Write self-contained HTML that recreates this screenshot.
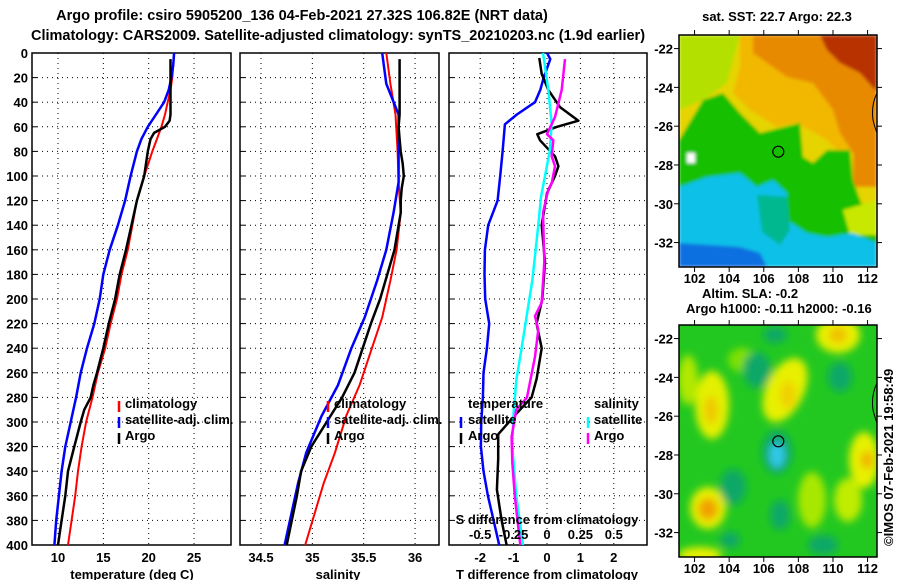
<!DOCTYPE html>
<html><head><meta charset="utf-8"><style>
html,body{margin:0;padding:0;background:#fff;}
svg{display:block;font-family:"Liberation Sans",Arial,sans-serif;font-weight:bold;}
text{font-size:13px;fill:#000;}
</style></head><body>
<svg id="fig" width="900" height="580" viewBox="0 0 900 580" xmlns="http://www.w3.org/2000/svg">
<rect width="900" height="580" fill="#fff"/>
<text x="302" y="20" text-anchor="middle" style="font-size:14.5px">Argo profile: csiro 5905200_136 04-Feb-2021 27.32S 106.82E (NRT data)</text>
<text x="338" y="40" text-anchor="middle" style="font-size:14.5px">Climatology: CARS2009. Satellite-adjusted climatology: synTS_20210203.nc (1.9d earlier)</text>

<defs>
<clipPath id="c1"><rect x="679" y="35" width="198" height="232"/></clipPath>
<clipPath id="c2"><rect x="679" y="325" width="198" height="232"/></clipPath>
<filter id="bl" x="-10%" y="-10%" width="120%" height="120%"><feGaussianBlur stdDeviation="4"/></filter>
<filter id="bl2"><feGaussianBlur stdDeviation="1.5"/></filter>
</defs>
<text x="777" y="21" text-anchor="middle">sat. SST: 22.7 Argo: 22.3</text>
<g clip-path="url(#c1)">
<g filter="url(#bl2)">
<rect x="679" y="35" width="198" height="232" fill="#e6d400"/>
<polygon fill="#b4e000" points="679,35 740,35 727,83 703,100 679,110"/>
<polygon fill="#f2b800" points="740,35 827,35 847,110 853,153 840,153 827,140 797,123 777,127 750,110 733,93 740,67"/>
<polygon fill="#e88a00" points="753,35 877,35 877,187 853,187 853,153 840,133 833,110 813,83 787,77 767,63 753,53"/>
<polygon fill="#b83000" points="820,35 877,35 877,92 860,73 840,63 827,50"/>
<polygon fill="#14c000" points="679,140 703,100 723,93 740,113 760,133 800,123 803,157 813,163 827,150 850,150 853,180 860,200 870,220 877,227 877,267 679,267"/>
<polygon fill="#c8e800" points="843,210 877,200 877,235 850,235"/>
<polygon fill="#10c0e8" points="679,187 707,177 740,173 757,187 773,180 787,193 787,220 807,233 827,237 853,233 877,243 877,267 679,267"/>
<polygon fill="#00b890" points="757,195 787,197 790,230 780,245 762,232"/>
<polygon fill="#1070e0" points="679,243 740,247 760,253 767,267 679,267"/>
<rect x="687" y="153" width="8" height="10" fill="#fff"/>
</g>
<path d="M877,93 Q871,105 873,120 Q875,128 877,133" fill="none" stroke="#000" stroke-width="1"/>
<circle cx="778.3" cy="151.7" r="5.5" fill="none" stroke="#000" stroke-width="1.2"/>
</g>
<rect x="679" y="35" width="198" height="232" fill="none" stroke="#000" stroke-width="1.5"/>

<text x="702" y="298">Altim. SLA: -0.2</text>
<text x="686" y="313">Argo h1000: -0.11 h2000: -0.16</text>
<g clip-path="url(#c2)">
<rect x="679" y="325" width="198" height="232" fill="#22c820"/>
<g filter="url(#bl)">
<ellipse cx="712" cy="405" rx="17" ry="34" fill="#e4f000"/>
<ellipse cx="711" cy="410" rx="7" ry="14" fill="#f0c800"/>
<ellipse cx="785" cy="390" rx="19" ry="34" fill="#e8f000" transform="rotate(25 785 390)"/>
<ellipse cx="788" cy="395" rx="8" ry="14" fill="#f0d000"/>
<ellipse cx="838" cy="335" rx="22" ry="18" fill="#e8f000"/>
<ellipse cx="838" cy="335" rx="9" ry="8" fill="#f0c000"/>
<ellipse cx="864" cy="460" rx="15" ry="28" fill="#e8f000"/>
<ellipse cx="867" cy="460" rx="6" ry="9" fill="#f0b000"/>
<ellipse cx="708" cy="508" rx="18" ry="21" fill="#e8f000"/>
<ellipse cx="708" cy="509" rx="10" ry="11" fill="#f0a000"/>
<ellipse cx="848" cy="500" rx="14" ry="22" fill="#c0ec00"/>
<ellipse cx="812" cy="500" rx="14" ry="28" fill="#a8e800"/>
<ellipse cx="688" cy="380" rx="10" ry="25" fill="#b0e800"/>
<ellipse cx="700" cy="555" rx="22" ry="8" fill="#e8f000"/>
<ellipse cx="742" cy="360" rx="14" ry="12" fill="#80e000"/>
<ellipse cx="757" cy="370" rx="14" ry="18" fill="#10a868"/>
<ellipse cx="840" cy="377" rx="12" ry="15" fill="#10a868"/>
<ellipse cx="733" cy="487" rx="13" ry="18" fill="#10a868"/>
<ellipse cx="780" cy="515" rx="10" ry="15" fill="#10a868"/>
<ellipse cx="823" cy="545" rx="15" ry="10" fill="#10a868"/>
<ellipse cx="730" cy="540" rx="10" ry="8" fill="#10a868"/>
<ellipse cx="775" cy="335" rx="12" ry="8" fill="#10a868"/>
<ellipse cx="777" cy="452" rx="15" ry="22" fill="#10a868"/>
<ellipse cx="777" cy="455" rx="8" ry="13" fill="#30c8e8"/>
</g>
<path d="M877,383 Q871,395 873,410 Q875,418 877,423" fill="none" stroke="#000" stroke-width="1"/>
<circle cx="778.3" cy="441.3" r="5.5" fill="none" stroke="#000" stroke-width="1.2"/>
</g>
<rect x="679" y="325" width="198" height="232" fill="none" stroke="#000" stroke-width="1.5"/>
<text transform="translate(893,546) rotate(-90)">©IMOS 07-Feb-2021 19:58:49</text>

<g id="charts"></g>
</svg>
<script>
// ---- Panel 1: temperature ----
const tDepthClim = [0,10,20,30,40,50,60,70,80,100,120,140,160,180,200,220,240,260,280,300,320,340,360,380,400];
const tClim = [22.8,22.7,22.6,22.4,22.1,21.8,21.4,20.9,20.4,19.5,18.7,18.2,17.7,17.0,16.5,15.8,15.2,14.4,13.8,13.1,12.6,12.2,11.9,11.5,11.1];
const tSatClim = [22.8,22.7,22.5,22.2,21.7,20.8,19.9,19.2,18.7,18.0,17.4,16.6,15.7,15.0,14.6,14.0,13.2,12.5,12.0,11.4,10.8,10.4,10.1,9.8,9.6];
const tDepthArgo = [5,50,55,60,65,70,80,100,120,140,160,180,200,220,240,260,270,280,290,300,320,340,360,380,400];
const tArgo = [22.4,22.4,22.3,21.8,20.6,20.2,19.9,19.5,18.7,18.1,17.5,16.8,16.3,15.6,15.0,14.3,13.9,13.6,12.9,12.5,11.8,11.1,10.8,10.4,10.0];
const tTicks = [10,15,20,25];
// ---- Panel 2: salinity ----
const sDepth = [0,25,50,80,105,130,160,185,215,240,270,295,325,350,400];
const sClim = [35.72,35.76,35.81,35.83,35.84,35.86,35.82,35.76,35.68,35.58,35.46,35.33,35.22,35.11,34.93];
const sSatClim = [35.68,35.72,35.84,35.84,35.84,35.79,35.72,35.63,35.51,35.38,35.25,35.09,34.94,34.86,34.73];
const sDepthArgo = [5,50,60,70,80,90,100,110,120,130,140,160,180,200,220,240,260,280,300,320,340,360,380,400];
const sArgo = [35.85,35.85,35.84,35.85,35.86,35.88,35.89,35.87,35.86,35.86,35.84,35.80,35.73,35.66,35.57,35.49,35.41,35.29,35.14,34.99,34.89,34.85,34.80,34.75];
const sTicks = [34.5,35,35.5,36];
const sTickLabels = ["34.5","35","35.5","36"];
// ---- Panel 3: differences ----
const dTDepthSat = [0,5,20,30,40,50,58,80,100,120,140,160,180,200,220,240,260,280,300,320,340,360,380,400];
const dTSat = [0,0.1,-0.1,-0.2,-0.36,-0.9,-1.26,-1.33,-1.4,-1.48,-1.76,-1.86,-1.87,-1.85,-1.73,-1.8,-1.9,-1.92,-1.97,-1.98,-1.9,-1.77,-1.6,-1.43];
const dTDepthArgo = [4,17,30,44,55,60,66,71,84,92,100,114,140,170,200,220,240,265,280,293,310,330,355,380,400];
const dTArgo = [-0.23,-0.16,0.04,0.39,0.94,0.3,-0.29,-0.21,0.24,0.34,0.24,0,-0.16,-0.06,-0.14,-0.31,-0.16,-0.31,-0.46,-0.91,-1.46,-1.46,-1.5,-1.36,-1.21];
const dSDepthSat = [0,30,58,80,100,117,140,185,212,240,266,293,320,360,400];
const dSSat = [-0.03,0.01,0.035,0.02,-0.015,-0.045,-0.065,-0.11,-0.15,-0.19,-0.23,-0.25,-0.26,-0.23,-0.18];
const dSDepthArgo = [5,30,52,66,71,84,92,106,111,130,170,203,214,225,247,280,290,312,333,361,400];
const dSArgo = [0.135,0.11,0.06,0,0.047,0.035,0.06,0.035,0.01,-0.03,-0.02,-0.04,-0.09,-0.065,-0.09,-0.15,-0.23,-0.265,-0.26,-0.24,-0.2];
const dTTicks = [-2,-1,0,1,2];
const dSTicks = [-0.5,-0.25,0,0.25,0.5];
const dSTickLabels = ["-0.5","-0.25","0","0.25","0.5"];
const depthTicks = [0,20,40,60,80,100,120,140,160,180,200,220,240,260,280,300,320,340,360,380,400];
// ---- Maps ----
const latTicks = [-22,-24,-26,-28,-30,-32];
const lonTicks = [102,104,106,108,110,112];

const NS = "http://www.w3.org/2000/svg";
const root = document.getElementById("charts");
function mk(tag, attrs, parent){
  const e = document.createElementNS(NS, tag);
  for (const k in attrs) e.setAttribute(k, attrs[k]);
  (parent||root).appendChild(e);
  return e;
}
const Y0 = 53, Y1 = 545;
const yD = d => Y0 + d*(Y1-Y0)/400;
const xT = t => 58 + (t-10)*9.07;
const xS = s => 261 + (s-34.5)*102.7;
const xDT = v => 547 + v*33.4;
const xDS = s => 547 + s*4*33.4;

function panel(name, x0, x1, xticks, xfn, labels, showY){
  const g = mk("g", {});
  
  
  depthTicks.forEach(d=>{
    const l = mk("line",{x1:x0,x2:x1,y1:yD(d),y2:yD(d),stroke:"#000","stroke-width":1,"stroke-dasharray":"1,4"},g);
    
    
    const tk = mk("line",{x1:x0,x2:x0+5,y1:yD(d),y2:yD(d),stroke:"#000","stroke-width":1},g);
    
    
    if(showY){
      const t = mk("text",{x:28,y:yD(d)+5,"text-anchor":"end"},g);
      t.textContent = d;
      
      
    }
  });
  xticks.forEach((v,i)=>{
    const X = xfn(v);
    const l = mk("line",{x1:X,x2:X,y1:Y0,y2:Y1,stroke:"#000","stroke-width":1,"stroke-dasharray":"1,4"},g);
    
    
    if(labels){
      const t = mk("text",{x:X,y:562,"text-anchor":"middle"},g);
      t.textContent = labels[i];
      
      
    }
  });
  const r = mk("rect",{x:x0,y:Y0,width:x1-x0,height:Y1-Y0,fill:"none",stroke:"#000","stroke-width":1.5},g);
  
  
  return g;
}
function series(g, name, depths, vals, xfn, color, w){
  const pts = depths.map((d,i)=>xfn(vals[i]).toFixed(1)+","+yD(d).toFixed(1)).join(" ");
  const p = mk("polyline",{points:pts,fill:"none",stroke:color,"stroke-width":w,"stroke-linejoin":"round"},g);
  
  
}
function txt(g, name, x, y, s, anchor){
  const t = mk("text",{x:x,y:y,"text-anchor":anchor||"start"},g);
  t.textContent = s;
  
  
}
function legendMark(g, x, y, color){
  const l = mk("line",{x1:x,x2:x,y1:y-11,y2:y,stroke:color,"stroke-width":2.5},g);
  
  
}

const g1 = panel("temperature-panel", 32, 231, tTicks, xT, tTicks.map(String), true);
series(g1,"temperature-climatology-line",tDepthClim,tClim,xT,"#f00",2);
series(g1,"temperature-satellite-adj-line",tDepthClim,tSatClim,xT,"#00f",2.5);
series(g1,"temperature-argo-line",tDepthArgo,tArgo,xT,"#000",2.5);
txt(g1,"temperature-axis-title",132,579,"temperature (deg C)","middle");
legendMark(g1,119,412,"#f00"); txt(g1,"legend-climatology",125,408,"climatology");
legendMark(g1,119,428,"#00f"); txt(g1,"legend-satellite-adj",125,424,"satellite-adj. clim.");
legendMark(g1,119,444,"#000"); txt(g1,"legend-argo",125,440,"Argo");

const g2 = panel("salinity-panel", 240, 439, sTicks, xS, sTickLabels, false);
series(g2,"salinity-climatology-line",sDepth,sClim,xS,"#f00",2);
series(g2,"salinity-satellite-adj-line",sDepth,sSatClim,xS,"#00f",2.5);
series(g2,"salinity-argo-line",sDepthArgo,sArgo,xS,"#000",2.5);
txt(g2,"salinity-axis-title",338,579,"salinity","middle");
legendMark(g2,328,412,"#f00"); txt(g2,"legend-climatology",334,408,"climatology");
legendMark(g2,328,428,"#00f"); txt(g2,"legend-satellite-adj",334,424,"satellite-adj. clim.");
legendMark(g2,328,444,"#000"); txt(g2,"legend-argo",334,440,"Argo");

const g3 = panel("difference-panel", 449, 647, dTTicks, xDT, dTTicks.map(String), false);
series(g3,"temp-diff-satellite-line",dTDepthSat,dTSat,xDT,"#00f",2.5);
series(g3,"temp-diff-argo-line",dTDepthArgo,dTArgo,xDT,"#000",2.5);
series(g3,"sal-diff-satellite-line",dSDepthSat,dSSat,xDS,"#0ff",2.5);
series(g3,"sal-diff-argo-line",dSDepthArgo,dSArgo,xDS,"#f0f",2.5);
txt(g3,"t-diff-axis-title",547,579,"T difference from climatology","middle");
txt(g3,"s-diff-axis-title",547,524,"S difference from climatology","middle");
dSTicks.forEach((v,i)=>txt(g3,"s-diff-tick-label",xDS(v),539,dSTickLabels[i],"middle"));
txt(g3,"legend-temperature-heading",468,408,"temperature");
legendMark(g3,461,428,"#00f"); txt(g3,"legend-temp-satellite",468,424,"satellite");
legendMark(g3,461,444,"#000"); txt(g3,"legend-temp-argo",468,440,"Argo");
txt(g3,"legend-salinity-heading",594,408,"salinity");
legendMark(g3,588,428,"#0ff"); txt(g3,"legend-sal-satellite",594,424,"satellite");
legendMark(g3,588,444,"#f0f"); txt(g3,"legend-sal-argo",594,440,"Argo");

const lonX = lon => 679 + (lon-101.1)*17.3;
function mapAxes(name, top){
  const g = mk("g",{});
  
  
  const latY = lat => top + (-21.3 - lat)*19.4;
  latTicks.forEach(lat=>{
    txt(g,"lat-tick-label",673,latY(lat)+5,String(lat),"end");
    mk("line",{x1:877,x2:882,y1:latY(lat),y2:latY(lat),stroke:"#000"},g);
    mk("line",{x1:674,x2:679,y1:latY(lat),y2:latY(lat),stroke:"#000"},g);
  });
  lonTicks.forEach(lon=>{
    txt(g,"lon-tick-label",lonX(lon),top+248,String(lon),"middle");
    mk("line",{x1:lonX(lon),x2:lonX(lon),y1:top-5,y2:top,stroke:"#000"},g);
    mk("line",{x1:lonX(lon),x2:lonX(lon),y1:top+232,y2:top+237,stroke:"#000"},g);
  });
}
mapAxes("sst-map-axes",35);
mapAxes("sla-map-axes",325);
</script>
</body></html>
